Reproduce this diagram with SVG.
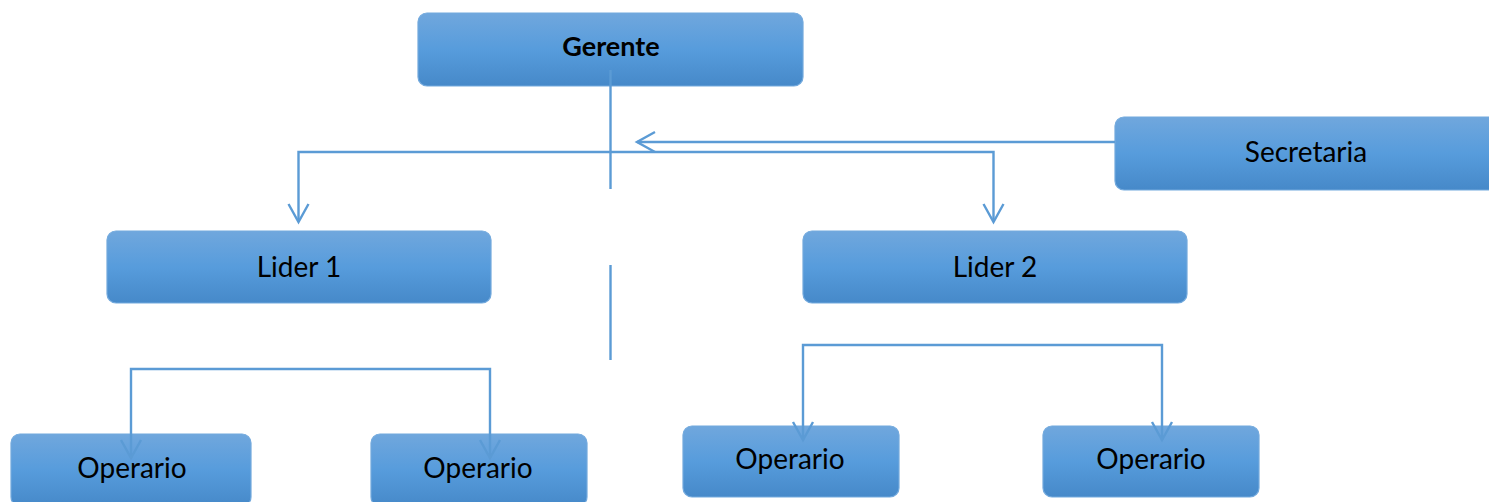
<svg xmlns="http://www.w3.org/2000/svg" width="1489" height="502" viewBox="0 0 1489 502">
<style>
.box{fill:url(#g);stroke:#72a9dd;stroke-width:1.2}
.t{font-family:Lato,"Liberation Sans",sans-serif;font-size:28px;fill:#000;text-anchor:middle}
.b{font-weight:bold;font-size:27px}
.c{fill:none;stroke:#5b9bd5;stroke-width:2.4}
</style>
<defs>
<linearGradient id="g" x1="0" y1="0" x2="0" y2="1">
<stop offset="0" stop-color="#70a7dd"/>
<stop offset="0.5" stop-color="#579cdc"/>
<stop offset="1" stop-color="#4689c9"/>
</linearGradient>
<marker id="a" markerUnits="userSpaceOnUse" markerWidth="24" markerHeight="24" viewBox="-20 -12 24 24" refX="0" refY="0" orient="auto-start-reverse">
<path d="M-18,-10 L0,0 L-18,10" fill="none" stroke="#5b9bd5" stroke-width="2.4"/>
</marker>
</defs>
<rect width="1489" height="502" fill="#fff"/>
<g id="gerente"><rect class="box" x="418" y="13" width="385" height="73" rx="9"/><text class="t b" x="611" y="56">Gerente</text></g>
<g id="secretaria"><rect class="box" x="1115" y="117" width="384" height="73" rx="9"/><text class="t" x="1306" y="162">Secretaria</text></g>
<g id="lider1"><rect class="box" x="107" y="231" width="384" height="72" rx="9"/><text class="t" x="299" y="277">Lider 1</text></g>
<g id="lider2"><rect class="box" x="803" y="231" width="384" height="72" rx="9"/><text class="t" x="995" y="277">Lider 2</text></g>
<g id="operario1"><rect class="box" x="11" y="434" width="240" height="72" rx="9"/><text class="t" x="132" y="478">Operario</text></g>
<g id="operario2"><rect class="box" x="371" y="434" width="216" height="72" rx="9"/><text class="t" x="478" y="478">Operario</text></g>
<g id="operario3"><rect class="box" x="683" y="426" width="216" height="71" rx="9"/><text class="t" x="790" y="469">Operario</text></g>
<g id="operario4"><rect class="box" x="1043" y="426" width="216" height="71" rx="9"/><text class="t" x="1151" y="469">Operario</text></g>
<g id="connectors">
<path class="c" d="M610.5,70 V189"/>
<path class="c" d="M610.5,265 V360"/>
<path class="c" d="M298.5,222 V152 H993.5 V222" marker-start="url(#a)" marker-end="url(#a)"/>
<path class="c" d="M1115,142 H637" marker-end="url(#a)"/>
<path class="c" d="M131,458 V369 H490 V458" marker-start="url(#a)" marker-end="url(#a)"/>
<path class="c" d="M803,440 V345 H1162 V440" marker-start="url(#a)" marker-end="url(#a)"/>
</g>
</svg>
